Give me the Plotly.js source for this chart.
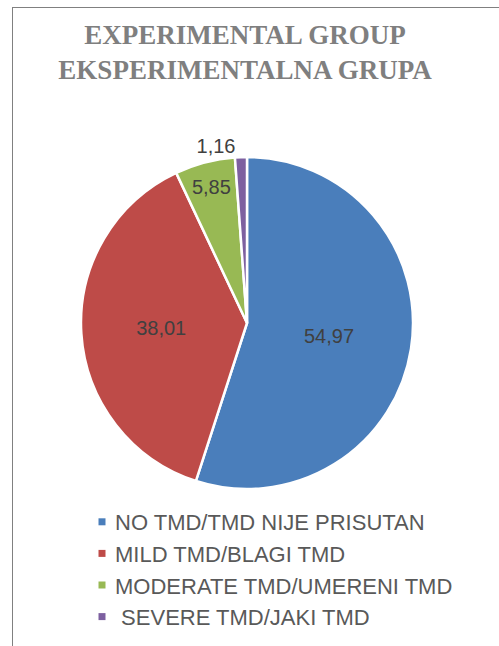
<!DOCTYPE html>
<html>
<head>
<meta charset="utf-8">
<script src="https://cdn.plot.ly/plotly-3.0.1.min.js"></script>
<style>
html,body{margin:0;padding:0;background:#fff;}
#wrap{position:relative;width:499px;height:646px;overflow:hidden;}
#chart{position:absolute;left:0;top:0;width:499px;height:646px;}
#frame{position:absolute;left:12px;top:7px;width:600px;height:700px;border-top:1.5px solid #808080;border-left:1.5px solid #808080;pointer-events:none;}
</style>
</head>
<body>
<div id="wrap">
<div id="chart"></div>
<div id="frame"></div>
</div>
<script>
const categories = [
  "NO TMD/TMD NIJE PRISUTAN",
  "MILD TMD/BLAGI TMD",
  "MODERATE TMD/UMERENI TMD",
  " SEVERE TMD/JAKI TMD"
];
const values = [54.97, 38.01, 5.85, 1.16];
const valueLabels = ["54,97", "38,01", "5,85", "1,16"];
const colors = ["#4A7EBB", "#BE4B48", "#98B954", "#7D60A0"];

const trace = {
  type: "pie",
  labels: categories,
  values: values,
  text: valueLabels,
  textinfo: "text",
  texttemplate: "%{text}",
  hoverinfo: "label+text",
  sort: false,
  direction: "clockwise",
  rotation: 0,
  textposition: ["inside", "inside", "inside", "outside"],
  insidetextorientation: "horizontal",
  marker: { colors: colors, line: { color: "#ffffff", width: 2.5 } },
  textfont: { family: "Liberation Sans, Arial, sans-serif", size: 20, color: "#404040" },
  insidetextfont: { family: "Liberation Sans, Arial, sans-serif", size: 20, color: "#404040" },
  outsidetextfont: { family: "Liberation Sans, Arial, sans-serif", size: 20, color: "#404040" },
  domain: { x: [81/499, 413/499], y: [1 - 489/646, 1 - 157/646] }
};

const layout = {
  width: 499,
  height: 646,
  margin: { l: 0, r: 0, t: 0, b: 0 },
  paper_bgcolor: "#ffffff",
  plot_bgcolor: "#ffffff",
  title: {
    text: "<b>EXPERIMENTAL GROUP<br>EKSPERIMENTALNA GRUPA</b>",
    font: { family: "Liberation Serif, Times New Roman, serif", size: 27, color: "#7F7F7F" },
    x: 245/499,
    xanchor: "center",
    xref: "paper",
    y: 1 - 44/646,
    yanchor: "top",
    yref: "container"
  },
  showlegend: true,
  legend: {
    x: 75/499,
    xanchor: "left",
    y: 1 - 501/646,
    yanchor: "top",
    orientation: "v",
    font: { family: "Liberation Sans, Arial, sans-serif", size: 22, color: "#595959" },
    bgcolor: "rgba(0,0,0,0)",
    traceorder: "normal"
  }
};

Plotly.newPlot("chart", [trace], layout, { displayModeBar: false, staticPlot: true }).then(function (gd) {
  gd.querySelectorAll("path.legendpie").forEach(function (p) {
    p.setAttribute("d", "M10.5,3.5H3.5V-3.5H10.5Z");
    p.style.strokeWidth = "0px";
    p.style.stroke = "none";
  });
});
</script>
</body>
</html>
